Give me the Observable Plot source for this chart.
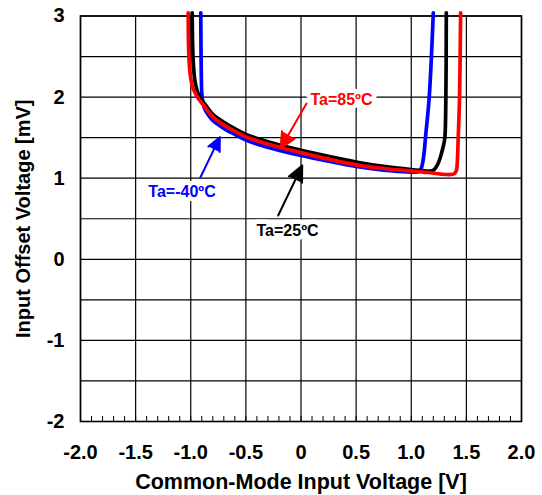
<!DOCTYPE html>
<html>
<head>
<meta charset="utf-8">
<script src="https://cdn.jsdelivr.net/npm/d3@7"></script>
<script src="https://cdn.jsdelivr.net/npm/@observablehq/plot@0.6"></script>
<style>
  body { margin: 0; background: #fff; }
</style>
</head>
<body>
<div id="chart"></div>
<script>
// ---- axis ticks ----
const xTicks = [-2, -1.5, -1, -0.5, 0, 0.5, 1, 1.5, 2];
const xTickLabels = ["-2.0", "-1.5", "-1.0", "-0.5", "0", "0.5", "1.0", "1.5", "2.0"];
const xMinor = [-2, -1.9, -1.8, -1.7, -1.6, -1.5, -1.4, -1.3, -1.2, -1.1, -1, -0.9, -0.8, -0.7, -0.6, -0.5, -0.4, -0.3, -0.2, -0.1, 0, 0.1, 0.2, 0.3, 0.4, 0.5, 0.6, 0.7, 0.8, 0.9, 1, 1.1, 1.2, 1.3, 1.4, 1.5, 1.6, 1.7, 1.8, 1.9, 2];
const yGrid = [-2, -1.5, -1, -0.5, 0, 0.5, 1, 1.5, 2, 2.5, 3];
const yTicks = [-2, -1, 0, 1, 2, 3];
const yTickLabels = ["-2", "-1", "0", "1", "2", "3"];
const xTitle = "Common-Mode Input Voltage [V]";
const yTitle = "Input Offset Voltage [mV]";

// ---- series: Input offset voltage [mV] vs common-mode input voltage [V] ----
const blueX = [-0.909, -0.907, -0.904, -0.900, -0.893, -0.880, -0.860, -0.830, -0.790, -0.700, -0.600, -0.500, -0.350, -0.186, 0.0, 0.25, 0.5, 0.75, 1.0, 1.05, 1.075, 1.09, 1.105, 1.118, 1.129, 1.163, 1.200];
const blueY = [3.04, 2.60, 2.25, 2.05, 1.96, 1.88, 1.82, 1.76, 1.70, 1.615, 1.54, 1.47, 1.40, 1.34, 1.28, 1.21, 1.145, 1.10, 1.075, 1.075, 1.09, 1.12, 1.20, 1.33, 1.50, 2.00, 3.04];

const blackX = [-0.987, -0.983, -0.975, -0.962, -0.945, -0.925, -0.900, -0.870, -0.840, -0.790, -0.700, -0.600, -0.500, -0.350, -0.186, 0.0, 0.25, 0.5, 0.75, 1.0, 1.12, 1.18, 1.21, 1.235, 1.26, 1.281, 1.295, 1.305, 1.314, 1.318];
const blackY = [3.04, 2.65, 2.38, 2.20, 2.09, 2.02, 1.96, 1.91, 1.855, 1.775, 1.69, 1.61, 1.54, 1.47, 1.405, 1.345, 1.27, 1.20, 1.145, 1.105, 1.09, 1.088, 1.11, 1.157, 1.24, 1.342, 1.42, 1.50, 2.00, 3.04];

const redX = [-1.023, -1.021, -1.015, -1.003, -0.985, -0.960, -0.930, -0.890, -0.840, -0.790, -0.700, -0.600, -0.500, -0.350, -0.186, 0.0, 0.25, 0.5, 0.75, 1.0, 1.15, 1.27, 1.36, 1.395, 1.41, 1.417, 1.426, 1.438, 1.448];
const redY = [3.04, 2.70, 2.45, 2.26, 2.13, 2.05, 1.98, 1.91, 1.82, 1.745, 1.655, 1.58, 1.51, 1.44, 1.378, 1.315, 1.235, 1.165, 1.12, 1.09, 1.07, 1.05, 1.046, 1.06, 1.10, 1.18, 1.50, 2.00, 3.04];

// ---- annotations ----
const labelText = ["Ta=85ºC", "Ta=25ºC", "Ta=-40ºC"];
const labelColor = ["#ff0000", "#000000", "#0000ff"];
const labelX = [0.367, -0.122, -1.079];
const labelY = [1.965, 0.355, 0.827];
const arrowX1 = [0.05, -0.207, -0.912];
const arrowY1 = [1.921, 0.54, 1.012];
const arrowX2 = [-0.186, 0.011, -0.736];
const arrowY2 = [1.366, 1.157, 1.506];

const toPts = (xs, ys) => xs.map((x, i) => ({x, y: ys[i]}));
const labels = labelText.map((t, i) => ({t, c: labelColor[i], x: labelX[i], y: labelY[i]}));
const arrows = labelText.map((t, i) => ({c: labelColor[i], x1: arrowX1[i], y1: arrowY1[i], x2: arrowX2[i], y2: arrowY2[i]}));

const fmtX = d => xTickLabels[xTicks.indexOf(d)];
const fmtY = d => yTickLabels[yTicks.indexOf(d)];

const lineOpts = {x: "x", y: "y", strokeWidth: 3.7, curve: "catmull-rom", strokeLinejoin: "round", strokeLinecap: "round"};

const plot = Plot.plot({
  width: 542,
  height: 495,
  marginLeft: 80,
  marginRight: 21,
  marginTop: 15.5,
  marginBottom: 74,
  style: {fontFamily: "'Liberation Sans', Arial, sans-serif", fontWeight: "bold", fontSize: "20px", color: "#000", background: "#fff"},
  x: {domain: [-2, 2]},
  y: {domain: [-2, 3]},
  marks: [
    Plot.gridX(xTicks, {stroke: "#000", strokeOpacity: 1, strokeWidth: 1.2}),
    Plot.gridY(yGrid, {stroke: "#000", strokeOpacity: 1, strokeWidth: 1.2}),
    Plot.axisX(xMinor, {tickSize: -5, tickFormat: () => "", label: null, strokeWidth: 1}),
    Plot.axisX(xTicks, {tickSize: 0, tickPadding: 23, tickFormat: fmtX, label: null}),
    Plot.axisY(yTicks, {tickSize: 0, tickPadding: 16, tickFormat: fmtY, label: null}),
    Plot.text([xTitle], {text: d => d, frameAnchor: "bottom", textAnchor: "middle", dy: 67, fontSize: 21.5, fontWeight: "bold", fill: "#000"}),
    Plot.text([yTitle], {text: d => d, frameAnchor: "left", textAnchor: "middle", lineAnchor: "middle", rotate: -90, dx: -57, fontSize: 20, fontWeight: "bold", fill: "#000"}),
    Plot.frame({stroke: "#000", strokeWidth: 1.6}),
    Plot.line(toPts(blueX, blueY), {...lineOpts, stroke: "#0000ff"}),
    Plot.line(toPts(blackX, blackY), {...lineOpts, stroke: "#000000"}),
    Plot.line(toPts(redX, redY), {...lineOpts, stroke: "#ff0000"}),
    Plot.arrow(arrows, {x1: "x1", y1: "y1", x2: "x2", y2: "y2", stroke: "c", fill: "c", strokeWidth: 2, headLength: 13, headAngle: 50}),
    Plot.text(labels, {x: "x", y: "y", text: "t", fill: "c", stroke: "#fff", strokeWidth: 9, strokeLinejoin: "round", fontSize: 16, fontWeight: "bold"})
  ]
});
document.getElementById("chart").appendChild(plot);
</script>
</body>
</html>
